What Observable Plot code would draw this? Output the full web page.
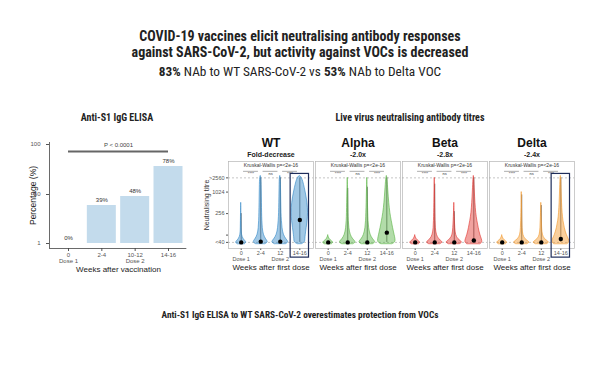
<!DOCTYPE html>
<html><head><meta charset="utf-8">
<script src="https://cdn.jsdelivr.net/npm/d3@7"></script>
<script src="https://cdn.jsdelivr.net/npm/@observablehq/plot@0.6"></script>
<style>
html,body{margin:0;padding:0;background:#fff}
body{width:600px;height:365px;position:relative;overflow:hidden;font-family:"Liberation Sans",Arial,sans-serif;color:#222}
.abs{position:absolute;white-space:nowrap;text-align:center}
.cond{font-family:"Liberation Sans Narrow","Roboto Condensed","Arial Narrow","Liberation Sans",sans-serif;font-stretch:condensed}
#elisa,#nab{position:absolute}
</style></head><body>
<div class="abs cond" style="left:0;width:600px;top:28px;font-weight:bold;font-size:14px;line-height:16px">COVID-19 vaccines elicit neutralising antibody responses<br>against SARS-CoV-2, but activity against VOCs is decreased</div>
<div class="abs cond" style="left:0;width:600px;top:64px;font-size:13.3px;line-height:16px"><b>83%</b> NAb to WT SARS-CoV-2 vs <b>53%</b> NAb to Delta VOC</div>
<div class="abs cond" style="left:17px;width:200px;top:112px;font-weight:bold;font-size:10px;line-height:12px">Anti-S1 IgG ELISA</div>
<div class="abs cond" style="left:310px;width:200px;top:112px;font-weight:bold;font-size:10px;line-height:12px">Live virus neutralising antibody titres</div>
<div class="abs cond" style="left:0;width:600px;top:309px;font-weight:bold;font-size:9.3px;line-height:12px">Anti-S1 IgG ELISA to WT SARS-CoV-2 overestimates protection from VOCs</div>
<div id="elisa" style="left:0;top:130px"></div>
<div id="nab" style="left:195px;top:130px"></div>
<script>
// ---- ELISA data ----
const elisaWeeks = ["0", "2-4", "10-12", "14-16"];
const elisaDose = ["Dose 1", "", "Dose 2", ""];
const elisaPct = [0, 39, 48, 78];
const elisaPLabel = "P < 0.0001";
const elisaPLevel = 93;

// ---- Live virus neutralisation data ----
const variants = ["WT", "Alpha", "Beta", "Delta"];
const foldLabels = ["Fold-decrease", "-2.0x", "-2.8x", "-2.4x"];
const variantColors = ["#2f86c6", "#55b140", "#e0302b", "#f29526"];
const weeks = ["0", "2-4", "12", "14-16"];
const doses = ["Dose 1", "", "Dose 2", ""];
const titreTicks = [40, 64, 256, 1024, 2560];
const titreTickLabels = ["<40", "64", "256", "1024", ">2560"];
const pairLabels = ["****", "ns", "****"];
const kwLabel = "Kruskal-Wallis p=<2e-16";
const highlighted = [["WT", 3], ["Delta", 3]];

// medians (black dots) and maxima (whisker tops), per variant, per week
const medWT = [40, 42, 42, 170];
const medAlpha = [40, 40, 40, 75];
const medBeta = [40, 40, 40, 45];
const medDelta = [40, 40, 40, 50];
const maxWT = [256, 2560, 2560, 2560];
const maxAlpha = [44, 1300, 1400, 2560];
const maxBeta = [44, 1700, 290, 2560];
const maxDelta = [44, 850, 430, 2560];

// violin half-widths (in week units) read at these titre levels
const violinLevels = [36, 40, 48, 64, 100, 160, 256, 512, 1024, 2560, 2900];
const vWT0 = [0.2, 0.3, 0.12, 0.03, 0.02, 0.015, 0.01, 0];
const vWT1 = [0.25, 0.4, 0.28, 0.15, 0.1, 0.08, 0.07, 0.06, 0.05, 0.04, 0];
const vWT2 = [0.3, 0.45, 0.32, 0.17, 0.11, 0.08, 0.06, 0.05, 0.04, 0.03, 0];
const vWT3 = [0.12, 0.28, 0.28, 0.3, 0.35, 0.4, 0.43, 0.4, 0.3, 0.14, 0];
const vAlpha0 = [0.2, 0.3, 0.05, 0];
const vAlpha1 = [0.3, 0.45, 0.28, 0.14, 0.08, 0.05, 0.04, 0.03, 0.02, 0];
const vAlpha2 = [0.3, 0.45, 0.3, 0.16, 0.09, 0.06, 0.05, 0.03, 0.02, 0];
const vAlpha3 = [0.3, 0.45, 0.45, 0.4, 0.32, 0.25, 0.18, 0.12, 0.08, 0.03, 0];
const vBeta0 = [0.2, 0.3, 0.05, 0];
const vBeta1 = [0.3, 0.45, 0.22, 0.1, 0.05, 0.04, 0.03, 0.02, 0.015, 0];
const vBeta2 = [0.3, 0.45, 0.2, 0.08, 0.05, 0.03, 0.015, 0];
const vBeta3 = [0.35, 0.45, 0.42, 0.33, 0.25, 0.18, 0.12, 0.08, 0.05, 0.02, 0];
const vDelta0 = [0.2, 0.3, 0.05, 0];
const vDelta1 = [0.3, 0.45, 0.18, 0.07, 0.04, 0.03, 0.02, 0.01, 0];
const vDelta2 = [0.3, 0.45, 0.18, 0.07, 0.04, 0.03, 0.015, 0];
const vDelta3 = [0.35, 0.45, 0.42, 0.3, 0.2, 0.13, 0.09, 0.06, 0.04, 0.02, 0];

const font = '"Liberation Sans", Arial, sans-serif';

// ---------- ELISA bar chart ----------
const elisa = elisaWeeks.map((w, i) => ({i, week: w, dose: elisaDose[i], pct: elisaPct[i]}));
const xDomE = [-0.57, 3.57], yDomE = [-4, 102];
const elisaPlot = Plot.plot({
  width: 200, height: 145,
  marginLeft: 49, marginRight: 13, marginTop: 12, marginBottom: 27,
  style: {fontSize: "6px", fontFamily: font, color: "#555", background: "transparent", overflow: "visible"},
  x: {domain: xDomE, ticks: [0, 1, 2, 3], tickSize: 3, tickPadding: 1,
      tickFormat: i => elisaWeeks[i] + (elisaDose[i] ? "\n" + elisaDose[i] : ""), label: null},
  y: {domain: yDomE, ticks: [1, 50, 100], tickSize: 3, label: "Percentage (%)", labelAnchor: "center", labelArrow: "none", labelOffset: 20},
  marks: [
    Plot.ruleY([yDomE[0]], {x1: xDomE[0], x2: 3.55, stroke: "#444", strokeWidth: 0.8}),
    Plot.ruleX([xDomE[0]], {y1: yDomE[0], y2: yDomE[1], stroke: "#444", strokeWidth: 0.8}),
    Plot.rectY(elisa.filter(d => d.pct > 1), {x1: d => d.i - 0.435, x2: d => d.i + 0.435, y1: 1, y2: "pct", fill: "#c3dbec"}),
    Plot.text(elisa, {x: "i", y: d => Math.max(d.pct, 1), text: d => d.pct + "%", dy: -5, fontSize: 6, fill: "#333"}),
    Plot.ruleY([elisaPLevel], {x1: 0, x2: 3, stroke: "#666", strokeWidth: 2}),
    Plot.text([elisaPLabel], {x: 1.5, y: elisaPLevel, text: d => d, dy: -6, fontSize: 6, fill: "#444"}),
    Plot.text(["Weeks after vaccination"], {frameAnchor: "bottom", lineAnchor: "middle", text: d => d, dy: 20.5, fontSize: 8, fill: "#222"})
  ]
});
elisaPlot.querySelectorAll('[aria-label="y-axis label"] text, [aria-label="y-axis label"]').forEach(e => { e.style.fontSize = "8.5px"; e.style.fill = "#222"; });
document.getElementById("elisa").appendChild(elisaPlot);

// ---------- Neutralisation facets ----------
const medAll = [medWT, medAlpha, medBeta, medDelta];
const maxAll = [maxWT, maxAlpha, maxBeta, maxDelta];
const vAll = [[vWT0, vWT1, vWT2, vWT3], [vAlpha0, vAlpha1, vAlpha2, vAlpha3],
              [vBeta0, vBeta1, vBeta2, vBeta3], [vDelta0, vDelta1, vDelta2, vDelta3]];

const groups = [];
const violin = [];
variants.forEach((v, vi) => {
  weeks.forEach((w, gi) => {
    groups.push({variant: v, g: gi, med: medAll[vi][gi], max: maxAll[vi][gi], color: variantColors[vi]});
    vAll[vi][gi].forEach((hw, li) => {
      violin.push({variant: v, g: gi, key: v + gi, t: violinLevels[li], w: hw, color: variantColors[vi]});
    });
  });
});
const panels = variants.map((v, i) => ({variant: v, fold: foldLabels[i]}));
const pairs = [];
variants.forEach(v => pairLabels.forEach((p, i) => pairs.push({variant: v, a: i, b: i + 1, label: p})));
const boxes = highlighted.map(([v, g]) => ({variant: v, g}));

const yDom = [27, 7350];
const xDom = [-0.65, 3.7];
const pairLevel = 3900;
const nabPlot = Plot.plot({
  width: 405, height: 145,
  marginLeft: 32, marginRight: 25, marginTop: 31, marginBottom: 27,
  style: {fontSize: "5.5px", fontFamily: font, color: "#555", background: "transparent", overflow: "visible"},
  fx: {domain: variants, padding: 0.02, axis: null},
  x: {domain: xDom, ticks: [0, 1, 2, 3], tickSize: 2, tickPadding: 1,
      tickFormat: i => weeks[i] + (doses[i] ? "\n" + doses[i] : ""), label: null},
  y: {type: "log", domain: yDom, ticks: titreTicks, tickSize: 2, tickPadding: 2,
      tickFormat: d => titreTickLabels[titreTicks.indexOf(d)],
      label: "Neutralising titre", labelAnchor: "center", labelArrow: "none", labelOffset: 24},
  marks: [
    Plot.frame({stroke: "#b5b5b5", strokeWidth: 0.7}),
    Plot.ruleY([40, 2560], {stroke: "#a0a0a0", strokeWidth: 0.6, strokeDasharray: "2,2"}),
    Plot.ruleX(groups, {fx: "variant", x: "g", y1: 40, y2: "max", stroke: "#555", strokeWidth: 0.8}),
    Plot.areaX(violin, {fx: "variant", z: "key", y: "t", x1: d => d.g - d.w, x2: d => d.g + d.w,
      fill: "color", fillOpacity: 0.45, stroke: "color", strokeWidth: 0.6, curve: "basis"}),
    Plot.dot(groups, {fx: "variant", x: "g", y: "med", r: 2.2, fill: "#000"}),
    Plot.rect(boxes, {fx: "variant", x1: d => d.g - 0.47, x2: d => d.g + 0.47, y1: 15, y2: 3300,
      stroke: "#1f2d5a", strokeWidth: 1.2, fill: "none"}),
    Plot.text(panels, {fx: "variant", frameAnchor: "top", lineAnchor: "middle", text: d => kwLabel, dy: 3.5, fontSize: 5, fill: "#333"}),
    Plot.ruleY(pairs, {fx: "variant", y: pairLevel, x1: d => d.a + 0.12, x2: d => d.b - 0.12, stroke: "#777", strokeWidth: 0.6}),
    Plot.text(pairs, {fx: "variant", y: pairLevel, x: d => (d.a + d.b) / 2, text: "label", lineAnchor: "top", dy: 0.8, fontSize: 4, fill: "#333"}),
    Plot.text(panels, {fx: "variant", frameAnchor: "top", lineAnchor: "middle", text: "variant", dy: -18, fontSize: 12, fontWeight: "bold", fill: "#111"}),
    Plot.text(panels, {fx: "variant", frameAnchor: "top", lineAnchor: "middle", text: "fold", dy: -7, fontSize: 7, fontWeight: "bold", fill: "#222"}),
    Plot.text(panels, {fx: "variant", frameAnchor: "bottom", lineAnchor: "middle", text: d => "Weeks after first dose", dy: 18.5, fontSize: 8, fill: "#222"})
  ]
});
nabPlot.querySelectorAll('[aria-label="y-axis label"] text, [aria-label="y-axis label"]').forEach(e => { e.style.fontSize = "7px"; e.style.fill = "#333"; });
document.getElementById("nab").appendChild(nabPlot);
</script>
</body></html>
